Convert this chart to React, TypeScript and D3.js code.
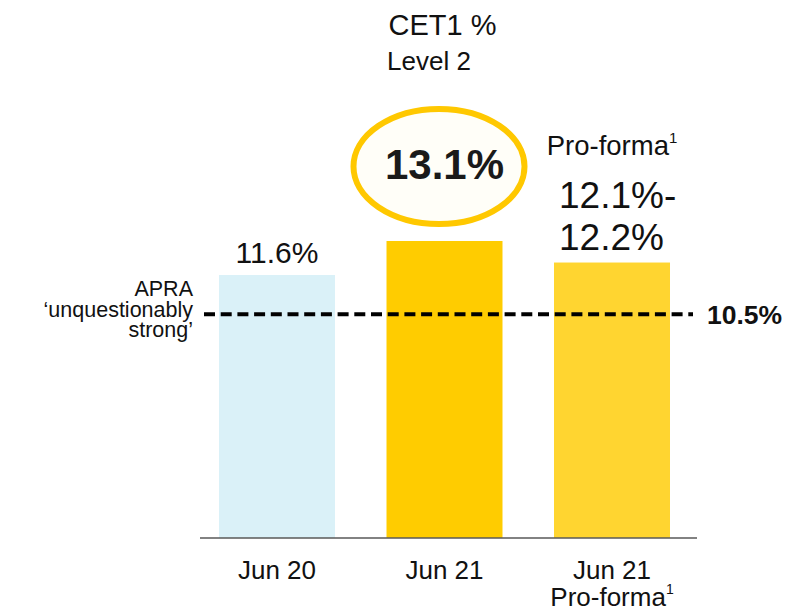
import React from "react";
import * as d3 from "d3";

const categories = ["Jun 20", "Jun 21", "Jun 21 Pro-forma"];
const values = [11.6, 13.1, 12.15];
const valueLabels = ["11.6%", "13.1%", "12.1%-12.2%"];
const barColors = ["#DAF1F8", "#FFCC00", "#FFD530"];
const apraValue = 10.5;
const apraLabel = "10.5%";
// In the reference the dashed APRA line is drawn lower than 10.5 on the bar scale
const apraLinePosition = 9.87;

const W = 804;
const H = 611;
const FONT = "'Liberation Sans', Arial, Helvetica, sans-serif";

export default function App() {
  const baseY = 538;
  const x = d3.scaleBand<string>().domain(categories).range([219, 670]).paddingInner(0.3075).paddingOuter(0);
  const y = d3.scaleLinear().domain([0, 11.6]).range([baseY, 275]);
  const bw = x.bandwidth();
  const cx = (i: number) => (x(categories[i]) as number) + bw / 2;
  const lineY = y(apraLinePosition);

  return (
    <svg width={W} height={H} style={{ position: "absolute", left: 0, top: 0, background: "#fff" }} fontFamily={FONT}>
      {/* title */}
      <text x={cx(1) - 2} y={35} fontSize={29} textAnchor="middle" fill="#111">CET1 %</text>
      <text x={cx(1) - 15.5} y={70} fontSize={26} textAnchor="middle" fill="#111">Level 2</text>

      {/* bars */}
      {values.map((v, i) => (
        <rect key={i} x={x(categories[i])} y={y(v)} width={bw} height={baseY - y(v)} fill={barColors[i]} />
      ))}

      {/* axis line */}
      <line x1={200} x2={697} y1={baseY} y2={baseY} stroke="#595959" strokeWidth={1.5} />

      {/* APRA dashed line */}
      <line x1={204} x2={693} y1={lineY} y2={lineY} stroke="#000" strokeWidth={4} strokeDasharray="11 5.7" />
      <text x={707} y={lineY + 9.5} fontSize={26.5} fontWeight="bold" fill="#111">{apraLabel}</text>
      <g fontSize={21.5} textAnchor="end" fill="#111">
        <text x={193} y={296}>APRA</text>
        <text x={193} y={316.5}>‘unquestionably</text>
        <text x={193} y={337}>strong’</text>
      </g>

      {/* value labels */}
      <text x={cx(0)} y={y(values[0]) - 12.5} fontSize={30} textAnchor="middle" fill="#111">{valueLabels[0]}</text>

      <ellipse cx={cx(1) - 5.5} cy={166.5} rx={85.5} ry={57.5} fill="#FFFEF8" stroke="#FFC800" strokeWidth={6} />
      <text x={cx(1)} y={179} fontSize={42} fontWeight="bold" textAnchor="middle" fill="#1a1a1a">{valueLabels[1]}</text>

      <text x={cx(2)} y={155} fontSize={27.5} textAnchor="middle" fill="#111">
        Pro-forma<tspan fontSize={15} dy={-12}>1</tspan>
      </text>
      <text x={cx(2) - 53} y={208} fontSize={37} fill="#111">{valueLabels[2].split("-")[0]}-</text>
      <text x={cx(2) - 53} y={250} fontSize={37} fill="#111">{valueLabels[2].split("-")[1]}</text>

      {/* category labels */}
      <g fontSize={26} textAnchor="middle" fill="#111">
        <text x={cx(0)} y={579}>Jun 20</text>
        <text x={cx(1)} y={579}>Jun 21</text>
        <text x={cx(2)} y={579}>Jun 21</text>
        <text x={cx(2)} y={605.5}>
          Pro-forma<tspan fontSize={14} dy={-12}>1</tspan>
        </text>
      </g>
    </svg>
  );
}
